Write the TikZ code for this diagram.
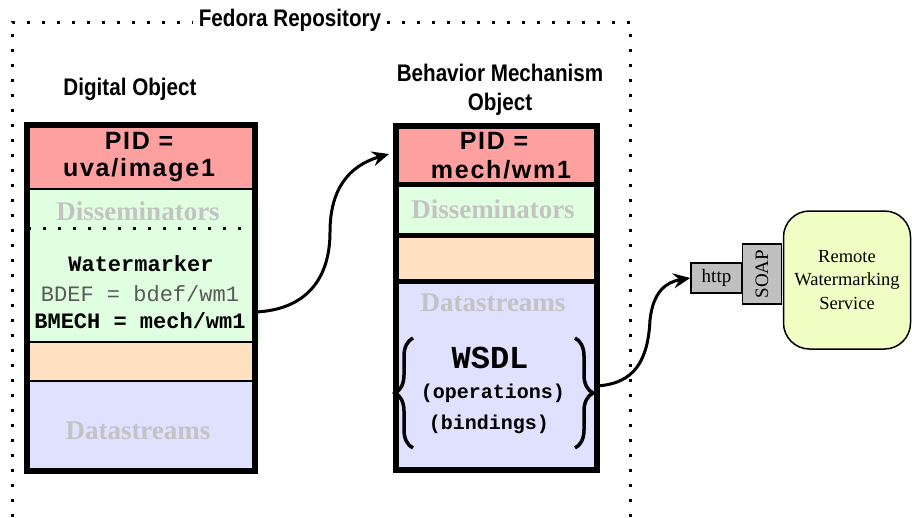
\documentclass[tikz,border=0pt]{standalone}
\usepackage{fontspec}
\setmainfont{Liberation Serif}
\newfontfamily\arialf{Liberation Sans}
\newfontfamily\pidf[LetterSpace=7]{Liberation Sans}
\newfontfamily\narrowf[FakeStretch=0.86]{Liberation Sans}
\newfontfamily\courf{Liberation Mono}
\usetikzlibrary{arrows.meta,decorations.pathreplacing,calc}
\definecolor{pidred}{RGB}{255,160,160}
\definecolor{dgreen}{RGB}{224,255,224}
\definecolor{dorange}{RGB}{255,224,192}
\definecolor{dblue}{RGB}{224,224,255}
\definecolor{ghost}{RGB}{195,195,195}
\definecolor{soapgray}{RGB}{192,192,192}
\definecolor{remyellow}{RGB}{242,255,196}
\tikzset{
  head/.style={inner sep=0pt, font=\narrowf\bfseries\fontsize{24}{28}\selectfont},
  pidtxt/.style={inner sep=0pt, font=\pidf\bfseries\fontsize{25}{29}\selectfont},
  ghosttxt/.style={inner sep=0pt, text=ghost, font=\bfseries\fontsize{27}{31}\selectfont},
  monob/.style={inner sep=0pt, font=\courf\bfseries\fontsize{22}{26}\selectfont},
  monor/.style={inner sep=0pt, text=black!65, font=\courf\fontsize{22}{26}\selectfont},
  framedots/.style={line width=3pt, dash pattern=on 3pt off 12pt},
  conn/.style={line width=3pt, -{Stealth[length=17pt,width=15pt,inset=6pt]}},
  bracestyle/.style={line width=3.5pt, decorate, decoration={brace, amplitude=18pt}},
  sep/.style={line width=2.5pt},
  septhick/.style={line width=5pt},
  smallbox/.style={draw, line width=1.5pt, fill=soapgray, inner sep=0pt, font=\fontsize{19}{22}\selectfont}
}
\begin{document}
\begin{tikzpicture}[x=1pt,y=-1pt]
\useasboundingbox (0,0) rectangle (912,517);

% Fedora repository frame
\draw[framedots] (12,517) -- (12,22) -- (630,22) -- (630,517);
\node[head, fill=white, inner xsep=6pt, inner ysep=4pt] (title) at (290,20) {Fedora Repository};

% ---------- Digital object ----------
\node[head] (dohead) at (130,89) {Digital Object};
\fill[pidred] (24,122) rectangle (252,189);
\fill[dgreen] (24,189) rectangle (252,342);
\fill[dgreen] (30,207) rectangle (260,343);
\fill[dorange] (24,342) rectangle (252,381);
\fill[dblue] (24,381) rectangle (252,468);
\draw[sep] (24,189) -- (252,189);
\draw[sep] (24,342) -- (252,342);
\draw[sep] (24,381) -- (252,381);
\draw[framedots] (28,228) -- (246,228);
\node[draw, line width=6pt, minimum width=228pt, minimum height=346pt, inner sep=0pt, anchor=north west] (lbox) at (24,122) {};

\node[pidtxt] (lpid1) at (139,141) {PID =};
\node[pidtxt] (lpid2) at (139,170) {uva/image1};
\node[ghosttxt] (ldiss) at (138,211) {Disseminators};
\node[monob] (wmk) at (141,264) {Watermarker};
\node[monor] (bdef) at (140,294) {BDEF = bdef/wm1};
\node[monob] (bmech) at (140,321) {BMECH = mech/wm1};
\node[ghosttxt] (lds) at (138,431) {Datastreams};

% ---------- Behavior mechanism object ----------
\node[head] (bmhead1) at (500,73) {Behavior Mechanism};
\node[head] (bmhead2) at (500,104) {Object};
\fill[pidred] (393,123) rectangle (594,184.5);
\fill[dgreen] (393,184.5) rectangle (594,235.5);
\fill[dorange] (393,235.5) rectangle (594,281.5);
\fill[dblue] (393,281.5) rectangle (594,467);
\draw[septhick] (393,184.5) -- (594,184.5);
\draw[septhick] (393,235.5) -- (594,235.5);
\draw[septhick] (393,281.5) -- (594,281.5);
\node[draw, line width=6pt, minimum width=201pt, minimum height=344pt, inner sep=0pt, anchor=north west] (rbox) at (393,123) {};

\node[pidtxt] (rpid1) at (494,141) {PID =};
\node[pidtxt] (rpid2) at (501,170) {mech/wm1};
\node[ghosttxt] (rdiss) at (493,209) {Disseminators};
\node[ghosttxt] (rds) at (493,303) {Datastreams};
\node[monob, font=\courf\bfseries\fontsize{32}{36}\selectfont] (wsdl) at (490,358) {WSDL};
\node[monob, font=\courf\bfseries\fontsize{20}{24}\selectfont] (ops) at (493,393) {(operations)};
\node[monob, font=\courf\bfseries\fontsize{20}{24}\selectfont] (bind) at (489,424) {(bindings)};
\coordinate (lb1) at (413,448);
\coordinate (lb2) at (413,338);
\coordinate (rb1) at (575,338);
\coordinate (rb2) at (575,448);
\draw[bracestyle] (lb1) -- (lb2);
\draw[bracestyle] (rb1) -- (rb2);

% ---------- Remote service ----------
\node[smallbox, minimum width=51pt, minimum height=30pt] (http) at (716.5,278) {http};
\node[smallbox, rotate=90, minimum width=60pt, minimum height=39pt] (soap) at (762,274) {SOAP};
\node[draw, line width=1.5pt, fill=remyellow, rounded corners=26pt, minimum width=127pt, minimum height=138pt, inner sep=0pt, align=center, font=\fontsize{18.5}{23.5}\selectfont] (remote) at (847,280) {Remote\\Watermarking\\Service};

% ---------- Connectors ----------
\coordinate (a1s) at (255,312);
\coordinate (a1e) at (389,154);
\draw[conn] (a1s) .. controls (305,310) and (330,280) .. (330,232) .. controls (330,190) and (348,166) .. (a1e);
\coordinate (a2s) at (596,386);
\draw[conn] (a2s) .. controls (635,384) and (648,360) .. (650,320) .. controls (653,292) and (666,282) .. (http.west);
\end{tikzpicture}
\end{document}
